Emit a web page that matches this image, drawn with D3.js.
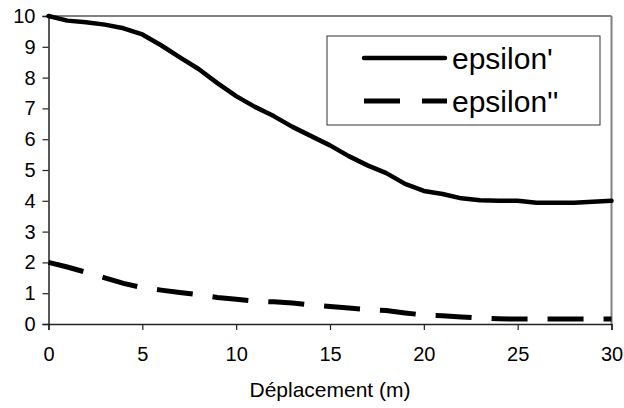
<!DOCTYPE html>
<html>
<head>
<meta charset="utf-8">
<script src="https://cdn.jsdelivr.net/npm/d3@7"></script>
<style>
  html, body { margin: 0; padding: 0; background: #fff; }
  svg { display: block; font-family: "Liberation Sans", Arial, sans-serif; }
</style>
</head>
<body>
<svg id="chart" width="624" height="408"></svg>
<script>
// Data
const xValues = [0,1,2,3,4,5,6,7,8,9,10,11,12,13,14,15,16,17,18,19,20,21,22,23,24,25,26,27,28,29,30];
const epsilonPrime = [10,9.85,9.8,9.72,9.6,9.4,9.05,8.66,8.28,7.82,7.4,7.05,6.75,6.4,6.1,5.8,5.45,5.15,4.9,4.55,4.32,4.22,4.08,4.02,4.0,4.0,3.94,3.94,3.94,3.97,4.0];
const epsilonSecond = [2.0,1.85,1.68,1.5,1.32,1.18,1.1,1.02,0.95,0.86,0.8,0.74,0.72,0.68,0.62,0.57,0.52,0.47,0.44,0.36,0.29,0.27,0.23,0.19,0.17,0.16,0.16,0.16,0.16,0.16,0.16];
const xTicks = [0,5,10,15,20,25,30];
const yTicks = [0,1,2,3,4,5,6,7,8,9,10];
const seriesNames = ["epsilon'", "epsilon''"];
const xTitle = "Déplacement (m)";

(function () {
const svg = d3.select("#chart");
const pLeft = 48.5, pRight = 611.5, pTop = 16, pBottom = 324;
const font = "'Liberation Sans', Arial, sans-serif";

const x = d3.scaleLinear().domain([0, 30]).range([pLeft, pRight]);
const y = d3.scaleLinear().domain([0, 10]).range([pBottom, pTop]);

// Plot frame: top & right gray
svg.append("line").attr("x1", pLeft).attr("x2", pRight).attr("y1", pTop).attr("y2", pTop)
  .attr("stroke", "#808080").attr("stroke-width", 2);
svg.append("line").attr("x1", pRight).attr("x2", pRight).attr("y1", pTop).attr("y2", pBottom)
  .attr("stroke", "#808080").attr("stroke-width", 2);

// Axes
const yAxis = d3.axisLeft(y).tickValues(yTicks).tickSize(6).tickPadding(7).tickFormat(d3.format("d"));
const gy = svg.append("g").attr("transform", `translate(${pLeft},0)`).call(yAxis);
gy.select(".domain").attr("stroke", "#222").attr("stroke-width", 1.5);
gy.selectAll(".tick line").attr("stroke", "#222").attr("stroke-width", 1.2);
gy.selectAll(".tick text").attr("font-size", 20).attr("fill", "#000").attr("font-family", font);

const xAxis = d3.axisBottom(x).tickValues(xTicks).tickSize(6).tickPadding(17).tickFormat(d3.format("d"));
const gx = svg.append("g").attr("transform", `translate(0,${pBottom})`).call(xAxis);
gx.select(".domain").attr("stroke", "#222").attr("stroke-width", 1.5);
gx.selectAll(".tick line").attr("stroke", "#222").attr("stroke-width", 1.2);
gx.selectAll(".tick text").attr("font-size", 20).attr("fill", "#000").attr("font-family", font);

// Axis title
svg.append("text").attr("x", (pLeft + pRight) / 2).attr("y", 397)
  .attr("text-anchor", "middle").attr("font-size", 21).attr("fill", "#000")
  .attr("font-family", font).text(xTitle);

// Lines
const line = d3.line().x((d, i) => x(xValues[i])).y(d => y(d));
svg.append("path").datum(epsilonPrime).attr("d", line)
  .attr("fill", "none").attr("stroke", "#000").attr("stroke-width", 4.5)
  .attr("stroke-linejoin", "round").attr("stroke-linecap", "round");
svg.append("path").datum(epsilonSecond).attr("d", line)
  .attr("fill", "none").attr("stroke", "#000").attr("stroke-width", 5)
  .attr("stroke-dasharray", "36,20").attr("stroke-linecap", "butt");

// Legend
const lg = svg.append("g");
lg.append("rect").attr("x", 327).attr("y", 36).attr("width", 273).attr("height", 89)
  .attr("fill", "#fff").attr("stroke", "#333").attr("stroke-width", 1);
const rows = [58, 101];
lg.append("line").attr("x1", 364).attr("x2", 445).attr("y1", rows[0]).attr("y2", rows[0])
  .attr("stroke", "#000").attr("stroke-width", 4.5).attr("stroke-linecap", "round");
lg.append("line").attr("x1", 364).attr("x2", 447).attr("y1", rows[1]).attr("y2", rows[1])
  .attr("stroke", "#000").attr("stroke-width", 5).attr("stroke-dasharray", "36,22");
seriesNames.forEach((n, i) => {
  lg.append("text").attr("x", 452).attr("y", rows[i] + 11)
    .attr("font-size", 30).attr("fill", "#000").attr("font-family", font).text(n);
});
})();
</script>
</body>
</html>
